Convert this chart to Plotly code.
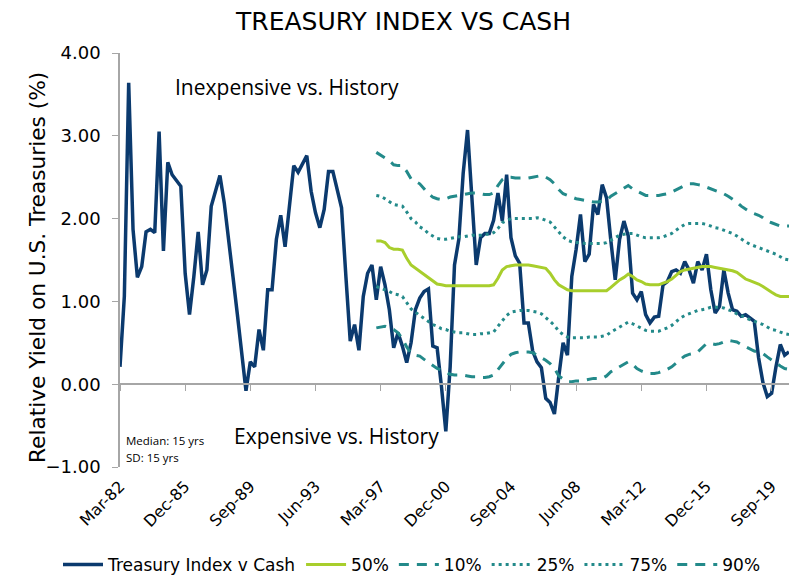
import plotly.graph_objects as go

# ---- categories (quarterly, Mar-82 .. Sep-20) ----
months = ["Mar", "Jun", "Sep", "Dec"]
quarters = [f"{months[q % 4]}-{(82 + q // 4) % 100:02d}" for q in range(155)]
tick_labels = ["Mar-82", "Dec-85", "Sep-89", "Jun-93", "Mar-97", "Dec-00",
               "Sep-04", "Jun-08", "Mar-12", "Dec-15", "Sep-19"]

treasury_v_cash = [
    0.21, 1.06, 3.64, 1.87, 1.29, 1.42, 1.84, 1.87, 1.83, 3.05,
    1.61, 2.68, 2.53, 2.46, 2.39, 1.34, 0.84, 1.30, 1.84, 1.20,
    1.38, 2.15, 2.33, 2.52, 2.19, 1.78, 1.30, 0.85, 0.40, -0.08,
    0.27, 0.21, 0.66, 0.41, 1.14, 1.14, 1.75, 2.04, 1.66, 2.11,
    2.64, 2.56, 2.65, 2.76, 2.33, 2.07, 1.89, 2.11, 2.57, 2.57,
    2.35, 2.13, 1.30, 0.52, 0.72, 0.41, 1.06, 1.34, 1.44, 1.02,
    1.42, 1.20, 0.90, 0.44, 0.62, 0.46, 0.26, 0.50, 0.90, 1.04,
    1.12, 1.15, 0.46, 0.44, -0.03, -0.57, 0.21, 1.44, 1.75, 2.55,
    3.07, 2.23, 1.44, 1.77, 1.82, 1.82, 1.98, 2.31, 1.97, 2.53,
    1.77, 1.55, 1.46, 0.74, 0.74, 0.40, 0.27, 0.20, -0.17, -0.22,
    -0.36, 0.09, 0.50, 0.35, 1.30, 1.63, 2.05, 1.48, 1.57, 2.17,
    2.05, 2.41, 2.25, 1.73, 1.26, 1.75, 1.97, 1.79, 1.10, 1.02,
    1.12, 0.84, 0.74, 0.81, 0.82, 1.20, 1.24, 1.36, 1.38, 1.34,
    1.48, 1.38, 1.22, 1.48, 1.38, 1.57, 1.14, 0.86, 0.94, 1.38,
    1.10, 0.90, 0.88, 0.82, 0.84, 0.80, 0.76, 0.32, 0.02, -0.15,
    -0.11, 0.21, 0.48, 0.35, 0.39,
]

pct_start = 59  # percentile bands start here (Dec-96)

p50 = [
    1.73, 1.73, 1.71, 1.65, 1.63, 1.63, 1.62, 1.52, 1.44, 1.40,
    1.37, 1.32, 1.28, 1.24, 1.21, 1.20, 1.19, 1.19, 1.19, 1.19,
    1.19, 1.19, 1.19, 1.19, 1.19, 1.19, 1.19, 1.20, 1.28, 1.38,
    1.42, 1.43, 1.44, 1.44, 1.44, 1.44, 1.43, 1.42, 1.41, 1.40,
    1.34, 1.26, 1.20, 1.17, 1.14, 1.13, 1.13, 1.13, 1.13, 1.13,
    1.13, 1.13, 1.13, 1.13, 1.17, 1.22, 1.26, 1.29, 1.33, 1.30,
    1.26, 1.24, 1.21, 1.20, 1.20, 1.20, 1.22, 1.24, 1.27, 1.32,
    1.36, 1.38, 1.39, 1.40, 1.41, 1.42, 1.42, 1.42, 1.41, 1.40,
    1.39, 1.38, 1.37, 1.35, 1.31, 1.27, 1.25, 1.23, 1.21, 1.18,
    1.14, 1.11, 1.08, 1.06, 1.06, 1.06,
]
p10 = [
    0.68, 0.69, 0.70, 0.68, 0.66, 0.62, 0.55, 0.45, 0.37, 0.35,
    0.34, 0.30, 0.26, 0.22, 0.19, 0.17, 0.14, 0.12, 0.11, 0.11,
    0.11, 0.10, 0.09, 0.09, 0.08, 0.08, 0.09, 0.11, 0.18, 0.25,
    0.31, 0.36, 0.38, 0.39, 0.39, 0.39, 0.38, 0.35, 0.33, 0.29,
    0.25, 0.19, 0.10, 0.06, 0.03, 0.03, 0.04, 0.04, 0.05, 0.06,
    0.07, 0.07, 0.07, 0.10, 0.15, 0.18, 0.21, 0.24, 0.27, 0.24,
    0.19, 0.16, 0.14, 0.13, 0.13, 0.14, 0.16, 0.18, 0.21, 0.26,
    0.30, 0.34, 0.36, 0.37, 0.39, 0.44, 0.49, 0.49, 0.48, 0.49,
    0.51, 0.53, 0.52, 0.51, 0.48, 0.45, 0.42, 0.40, 0.39, 0.37,
    0.33, 0.29, 0.25, 0.22, 0.19, 0.18,
]
p25 = [
    1.18, 1.16, 1.14, 1.12, 1.09, 1.08, 1.06, 0.98, 0.91, 0.87,
    0.83, 0.79, 0.75, 0.72, 0.70, 0.67, 0.66, 0.64, 0.63, 0.62,
    0.62, 0.61, 0.60, 0.60, 0.61, 0.61, 0.62, 0.63, 0.70, 0.77,
    0.83, 0.87, 0.88, 0.89, 0.89, 0.89, 0.88, 0.87, 0.85, 0.81,
    0.76, 0.71, 0.64, 0.60, 0.57, 0.56, 0.56, 0.56, 0.56, 0.57,
    0.57, 0.57, 0.58, 0.59, 0.63, 0.66, 0.70, 0.73, 0.75, 0.73,
    0.70, 0.68, 0.65, 0.64, 0.64, 0.64, 0.66, 0.68, 0.71, 0.76,
    0.80, 0.83, 0.85, 0.87, 0.89, 0.90, 0.91, 0.93, 0.93, 0.93,
    0.92, 0.90, 0.88, 0.85, 0.83, 0.80, 0.78, 0.76, 0.74, 0.72,
    0.69, 0.66, 0.65, 0.63, 0.61, 0.60,
]
p75 = [
    2.28, 2.27, 2.24, 2.21, 2.17, 2.16, 2.15, 2.08, 2.00, 1.96,
    1.90, 1.87, 1.82, 1.79, 1.76, 1.75, 1.75, 1.76, 1.77, 1.78,
    1.78, 1.79, 1.80, 1.80, 1.80, 1.81, 1.81, 1.83, 1.88, 1.95,
    1.98, 2.00, 2.00, 2.00, 2.00, 2.00, 2.00, 2.01, 2.00, 1.98,
    1.96, 1.90, 1.84, 1.78, 1.74, 1.72, 1.71, 1.71, 1.70, 1.70,
    1.70, 1.70, 1.70, 1.71, 1.74, 1.78, 1.80, 1.81, 1.82, 1.82,
    1.80, 1.78, 1.77, 1.77, 1.77, 1.77, 1.78, 1.80, 1.82, 1.86,
    1.90, 1.93, 1.94, 1.94, 1.94, 1.94, 1.93, 1.91, 1.89, 1.88,
    1.86, 1.84, 1.82, 1.79, 1.75, 1.72, 1.69, 1.67, 1.65, 1.63,
    1.61, 1.59, 1.57, 1.54, 1.51, 1.50,
]
p90 = [
    2.80, 2.77, 2.74, 2.70, 2.65, 2.64, 2.64, 2.57, 2.48, 2.45,
    2.42, 2.36, 2.30, 2.26, 2.24, 2.23, 2.24, 2.26, 2.27, 2.28,
    2.29, 2.30, 2.31, 2.31, 2.30, 2.29, 2.29, 2.31, 2.40, 2.47,
    2.50, 2.50, 2.49, 2.49, 2.49, 2.49, 2.50, 2.51, 2.52, 2.50,
    2.47, 2.42, 2.35, 2.30, 2.28, 2.26, 2.24, 2.23, 2.22, 2.21,
    2.20, 2.20, 2.21, 2.22, 2.27, 2.30, 2.34, 2.37, 2.40, 2.36,
    2.33, 2.30, 2.28, 2.28, 2.28, 2.28, 2.29, 2.30, 2.32, 2.35,
    2.38, 2.40, 2.42, 2.42, 2.41, 2.40, 2.38, 2.36, 2.34, 2.32,
    2.30, 2.27, 2.24, 2.20, 2.15, 2.11, 2.08, 2.06, 2.04, 2.01,
    1.97, 1.95, 1.93, 1.91, 1.91, 1.91,
]

NAVY = "#0B3A6E"
GREEN = "#A8CE2C"
TEAL = "#238A8A"
AXIS = "#A6A6A6"
FONT = "DejaVu Sans"

# category positions on an evenly spaced (Excel-style) category axis
pos = {q: i for i, q in enumerate(quarters)}
x_all = [pos[q] for q in quarters]
x_pct = [pos[q] for q in quarters[pct_start:]]
tick_vals = [pos[t] for t in tick_labels]
x_range = [0, len(quarters) - 1]

fig = go.Figure()
fig.add_trace(go.Scatter(x=x_all, y=treasury_v_cash, mode="lines",
                         name="Treasury Index v Cash", text=quarters,
                         line=dict(color=NAVY, width=3.5)))
fig.add_trace(go.Scatter(x=x_pct, y=p50, mode="lines", name="50%",
                         line=dict(color=GREEN, width=3)))
fig.add_trace(go.Scatter(x=x_pct, y=p10, mode="lines", name="10%",
                         line=dict(color=TEAL, width=3, dash="10px,8px")))
fig.add_trace(go.Scatter(x=x_pct, y=p25, mode="lines", name="25%",
                         line=dict(color=TEAL, width=3, dash="3px,4px")))
fig.add_trace(go.Scatter(x=x_pct, y=p75, mode="lines", name="75%",
                         line=dict(color=TEAL, width=3, dash="3px,4px")))
fig.add_trace(go.Scatter(x=x_pct, y=p90, mode="lines", name="90%",
                         line=dict(color=TEAL, width=3, dash="10px,8px")))
# invisible helper trace so the zero-line axis (x2) is drawn
fig.add_trace(go.Scatter(x=[0], y=[0], xaxis="x2", mode="lines",
                         showlegend=False, hoverinfo="skip",
                         line=dict(width=0)))

fig.update_layout(
    width=793, height=577,
    margin=dict(l=120, r=4, t=53, b=110, autoexpand=False),
    paper_bgcolor="white", plot_bgcolor="white",
    font=dict(family=FONT, color="#000000"),
    showlegend=True,
    legend=dict(orientation="h", x=(58 - 120) / 669, xanchor="left",
                y=(467 - 565) / 414, yanchor="middle",
                font=dict(family=FONT, size=17, color="#000000"),
                itemwidth=40, tracegroupgap=0, bgcolor="rgba(0,0,0,0)"),
    xaxis=dict(range=x_range, tickmode="array", tickvals=tick_vals,
               ticktext=tick_labels, tickangle=-45, automargin=False,
               tickfont=dict(family=FONT, size=16), ticklabelstandoff=6,
               showline=False, showgrid=False, ticks="", zeroline=False),
    xaxis2=dict(range=x_range, overlaying="x", anchor="free",
                position=0.2, tickmode="array", tickvals=tick_vals,
                showticklabels=False, showline=True, linecolor=AXIS,
                linewidth=1.5, ticks="outside", ticklen=6, tickcolor=AXIS,
                showgrid=False, zeroline=False, automargin=False),
    yaxis=dict(range=[-1, 4], dtick=1, tick0=0, tickformat=".2f",
               showline=True, linecolor=AXIS, linewidth=1.5,
               ticks="outside", ticklen=6, tickcolor=AXIS,
               showgrid=False, zeroline=False, automargin=False,
               ticklabelstandoff=8,
               tickfont=dict(family=FONT, size=18)),
    annotations=[
        dict(text="TREASURY INDEX VS CASH", xref="paper", yref="paper",
             x=(403 - 120) / 669, y=1 + (53 - 21) / 414, xanchor="center",
             yanchor="middle", showarrow=False,
             font=dict(family=FONT, size=25)),
        dict(text="Relative Yield on U.S. Treasuries (%)", xref="paper",
             yref="paper", x=(37 - 120) / 669, y=(467 - 268) / 414,
             textangle=-90, xanchor="center", yanchor="middle",
             showarrow=False, font=dict(family=FONT, size=21.7)),
        dict(text="Inexpensive vs. History", xref="paper", yref="paper",
             x=(287 - 120) / 669, y=(467 - 87) / 414, xanchor="center",
             yanchor="middle", showarrow=False,
             font=dict(family="Open Sans", size=21)),
        dict(text="Expensive vs. History", xref="paper", yref="paper",
             x=(336 - 120) / 669, y=(467 - 436) / 414, xanchor="center",
             yanchor="middle", showarrow=False,
             font=dict(family="Open Sans", size=21)),
        dict(text="Median: 15 yrs", xref="paper", yref="paper",
             x=(124 - 120) / 669, y=(467 - 440) / 414, xanchor="left",
             yanchor="middle", showarrow=False,
             font=dict(family="Open Sans", size=11.5)),
        dict(text="SD: 15 yrs", xref="paper", yref="paper",
             x=(124 - 120) / 669, y=(467 - 457) / 414, xanchor="left",
             yanchor="middle", showarrow=False,
             font=dict(family="Open Sans", size=11.5)),
    ],
)

fig.write_html("out.html", config={"displayModeBar": False},
               post_script="document.body.style.margin='0px';")
